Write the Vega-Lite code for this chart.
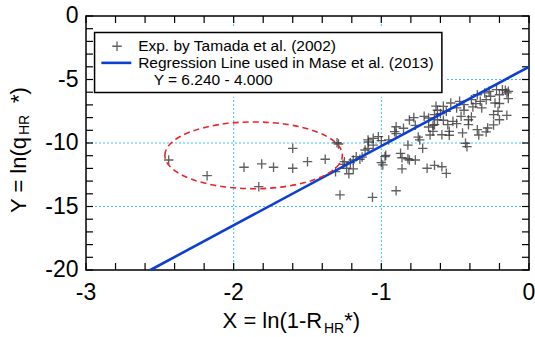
{
  "$schema": "https://vega.github.io/schema/vega-lite/v6.json",
  "width": 443,
  "height": 254,
  "autosize": "none",
  "padding": {"left": 86, "top": 16, "right": 6, "bottom": 67},
  "background": "white",
  "config": {
    "view": {"stroke": "black", "strokeWidth": 1.5}
  },
  "datasets": {
    "xticks": [{"v": -3}, {"v": -2.8}, {"v": -2.6}, {"v": -2.4}, {"v": -2.2}, {"v": -2}, {"v": -1.8}, {"v": -1.6}, {"v": -1.4}, {"v": -1.2}, {"v": -1}, {"v": -0.8}, {"v": -0.6}, {"v": -0.4}, {"v": -0.2}, {"v": 0}],
    "yticks": [{"v": -20}, {"v": -19}, {"v": -18}, {"v": -17}, {"v": -16}, {"v": -15}, {"v": -14}, {"v": -13}, {"v": -12}, {"v": -11}, {"v": -10}, {"v": -9}, {"v": -8}, {"v": -7}, {"v": -6}, {"v": -5}, {"v": -4}, {"v": -3}, {"v": -2}, {"v": -1}, {"v": 0}],
    "xlabels": [{"v": -3, "t": "-3"}, {"v": -2, "t": "-2"}, {"v": -1, "t": "-1"}, {"v": 0, "t": "0"}],
    "ylabels": [{"v": -20, "t": "-20"}, {"v": -15, "t": "-15"}, {"v": -10, "t": "-10"}, {"v": -5, "t": "-5"}, {"v": 0, "t": "0"}],
    "exp": [
      {"x": -2.44, "y": -11.34}, {"x": -2.18, "y": -12.57}, {"x": -1.93, "y": -11.91}, {"x": -1.81, "y": -11.65}, {"x": -1.73, "y": -11.91}, {"x": -1.6, "y": -11.99}, {"x": -1.6, "y": -10.42}, {"x": -1.5, "y": -11.47}, {"x": -1.38, "y": -11.28}, {"x": -1.83, "y": -13.44}, {"x": -1.3, "y": -9.98}, {"x": -1.29, "y": -10.08}, {"x": -1.31, "y": -12.26},
      {"x": -1.25, "y": -11.47}, {"x": -1.21, "y": -11.55}, {"x": -1.235, "y": -11.99}, {"x": -1.28, "y": -14.09}, {"x": -1.06, "y": -14.28}, {"x": -0.9, "y": -13.76},
      {"x": -1.22, "y": -12.42}, {"x": -1.26, "y": -11.68}, {"x": -1.19, "y": -11.34}, {"x": -1.145, "y": -11.28}, {"x": -1.19, "y": -12.03}, {"x": -1.17, "y": -11.08}, {"x": -1.13, "y": -11.11}, {"x": -1.11, "y": -10.55}, {"x": -1.09, "y": -10.42}, {"x": -1.09, "y": -9.76}, {"x": -1.055, "y": -9.63}, {"x": -1.055, "y": -10.16}, {"x": -1.02, "y": -9.5}, {"x": -1.0, "y": -9.82}, {"x": -1.087, "y": -9.92}, {"x": -0.95, "y": -9.76}, {"x": -0.975, "y": -11.08}, {"x": -0.99, "y": -11.73}, {"x": -0.97, "y": -10.97}, {"x": -1.0, "y": -11.55},
      {"x": -0.9, "y": -9.26}, {"x": -0.91, "y": -9.11}, {"x": -0.9, "y": -8.72}, {"x": -0.85, "y": -8.84}, {"x": -0.81, "y": -8.19}, {"x": -0.87, "y": -10.81}, {"x": -0.86, "y": -11.16}, {"x": -0.86, "y": -12.03}, {"x": -0.82, "y": -11.24}, {"x": -0.81, "y": -11.34}, {"x": -0.77, "y": -11.34}, {"x": -0.82, "y": -10.16}, {"x": -0.77, "y": -8.61}, {"x": -0.75, "y": -9.53}, {"x": -0.74, "y": -9.76}, {"x": -0.72, "y": -10.42}, {"x": -0.69, "y": -11.99}, {"x": -0.68, "y": -8.74}, {"x": -0.65, "y": -8.61}, {"x": -0.64, "y": -11.76}, {"x": -0.59, "y": -11.87}, {"x": -0.56, "y": -12.39}, {"x": -0.67, "y": -9.37}, {"x": -0.68, "y": -8.03}, {"x": -0.62, "y": -8.17}, {"x": -0.64, "y": -8.56}, {"x": -0.65, "y": -9.08}, {"x": -0.59, "y": -9.35}, {"x": -0.64, "y": -7.77}, {"x": -0.62, "y": -7.42}, {"x": -0.6, "y": -7.68}, {"x": -0.58, "y": -7.11}, {"x": -0.56, "y": -7.5}, {"x": -0.58, "y": -8.21}, {"x": -0.55, "y": -8.56}, {"x": -0.54, "y": -9.08}, {"x": -0.54, "y": -9.39}, {"x": -0.53, "y": -6.85}, {"x": -0.515, "y": -8.29}, {"x": -0.49, "y": -7.24}, {"x": -0.49, "y": -8.47}, {"x": -0.47, "y": -6.72}, {"x": -0.46, "y": -7.9}, {"x": -0.45, "y": -9.21}, {"x": -0.44, "y": -6.98}, {"x": -0.44, "y": -7.42}, {"x": -0.43, "y": -10.02}, {"x": -0.42, "y": -10.29}, {"x": -0.41, "y": -8.17}, {"x": -0.41, "y": -8.56}, {"x": -0.39, "y": -6.59}, {"x": -0.39, "y": -7.95}, {"x": -0.38, "y": -7.16}, {"x": -0.36, "y": -6.9}, {"x": -0.35, "y": -6.2}, {"x": -0.33, "y": -6.72}, {"x": -0.32, "y": -7.24}, {"x": -0.35, "y": -8.95}, {"x": -0.34, "y": -9.37}, {"x": -0.3, "y": -6.06}, {"x": -0.29, "y": -6.59}, {"x": -0.29, "y": -9.13}, {"x": -0.28, "y": -8.82}, {"x": -0.27, "y": -5.93}, {"x": -0.26, "y": -6.32}, {"x": -0.24, "y": -7.77}, {"x": -0.24, "y": -8.58}, {"x": -0.23, "y": -6.85}, {"x": -0.22, "y": -5.8}, {"x": -0.21, "y": -7.5}, {"x": -0.2, "y": -6.2}, {"x": -0.2, "y": -8.17}, {"x": -0.2, "y": -6.89}, {"x": -0.18, "y": -5.8}, {"x": -0.15, "y": -6.06}, {"x": -0.16, "y": -5.84}, {"x": -0.15, "y": -7.82}, {"x": -0.14, "y": -6.5}, {"x": -0.14, "y": -5.93},
      {"x": -0.78, "y": -8.0}, {"x": -0.71, "y": -7.9}, {"x": -0.63, "y": -7.1}
    ]
  },
  "layer": [
    {
      "data": {"values": [{"x": -2}, {"x": -1}]},
      "mark": {"type": "rule", "color": "#3fbff5", "strokeWidth": 1, "strokeDash": [2, 2]},
      "encoding": {"x": {"field": "x", "type": "quantitative", "scale": {"domain": [-3, 0], "nice": false, "zero": false}, "axis": null}}
    },
    {
      "data": {"values": [{"y": -5}, {"y": -10}, {"y": -15}]},
      "mark": {"type": "rule", "color": "#3fbff5", "strokeWidth": 1, "strokeDash": [2, 2]},
      "encoding": {"y": {"field": "y", "type": "quantitative", "scale": {"domain": [-20, 0], "nice": false, "zero": false}, "axis": null}}
    },
    {
      "data": {"values": [{"x": -2.97, "x2": -0.56, "y": -0.95, "y2": -6.35}]},
      "mark": {"type": "rect", "fill": "white", "strokeWidth": 0},
      "encoding": {
        "x": {"field": "x", "type": "quantitative", "scale": {"domain": [-3, 0], "nice": false, "zero": false}, "axis": null},
        "x2": {"field": "x2"},
        "y": {"field": "y", "type": "quantitative", "scale": {"domain": [-20, 0], "nice": false, "zero": false}, "axis": null},
        "y2": {"field": "y2"}
      }
    },
    {
      "data": {"values": [{"x": -2.942, "x2": -0.59, "y": -1.29, "y2": -6.03}]},
      "mark": {"type": "rect", "fill": null, "fillOpacity": 0, "stroke": "black", "strokeWidth": 1.5},
      "encoding": {
        "x": {"field": "x", "type": "quantitative", "scale": {"domain": [-3, 0], "nice": false, "zero": false}, "axis": null},
        "x2": {"field": "x2"},
        "y": {"field": "y", "type": "quantitative", "scale": {"domain": [-20, 0], "nice": false, "zero": false}, "axis": null},
        "y2": {"field": "y2"}
      }
    },
    {
      "data": {"name": "xticks"},
      "mark": {"type": "rule", "color": "black", "strokeWidth": 1.2},
      "encoding": {
        "x": {"field": "v", "type": "quantitative", "scale": {"domain": [-3, 0], "nice": false, "zero": false}, "axis": null},
        "y": {"datum": -20, "type": "quantitative", "scale": {"domain": [-20, 0], "nice": false, "zero": false}, "axis": null},
        "y2": {"datum": -19.45}
      }
    },
    {
      "data": {"name": "xticks"},
      "mark": {"type": "rule", "color": "black", "strokeWidth": 1.2},
      "encoding": {
        "x": {"field": "v", "type": "quantitative", "scale": {"domain": [-3, 0], "nice": false, "zero": false}, "axis": null},
        "y": {"datum": 0, "type": "quantitative", "scale": {"domain": [-20, 0], "nice": false, "zero": false}, "axis": null},
        "y2": {"datum": -0.55}
      }
    },
    {
      "data": {"name": "yticks"},
      "mark": {"type": "rule", "color": "black", "strokeWidth": 1.2},
      "encoding": {
        "y": {"field": "v", "type": "quantitative", "scale": {"domain": [-20, 0], "nice": false, "zero": false}, "axis": null},
        "x": {"datum": -3, "type": "quantitative", "scale": {"domain": [-3, 0], "nice": false, "zero": false}, "axis": null},
        "x2": {"datum": -2.9526}
      }
    },
    {
      "data": {"name": "yticks"},
      "mark": {"type": "rule", "color": "black", "strokeWidth": 1.2},
      "encoding": {
        "y": {"field": "v", "type": "quantitative", "scale": {"domain": [-20, 0], "nice": false, "zero": false}, "axis": null},
        "x": {"datum": 0, "type": "quantitative", "scale": {"domain": [-3, 0], "nice": false, "zero": false}, "axis": null},
        "x2": {"datum": -0.0474}
      }
    },
    {
      "data": {"name": "xlabels"},
      "mark": {"type": "text", "font": "Liberation Sans", "fontSize": 23, "align": "center", "baseline": "top", "color": "black"},
      "encoding": {
        "x": {"field": "v", "type": "quantitative", "scale": {"domain": [-3, 0], "nice": false, "zero": false}, "axis": null},
        "y": {"datum": -20.945, "type": "quantitative", "scale": {"domain": [-20, 0], "nice": false, "zero": false}, "axis": null},
        "text": {"field": "t"}
      }
    },
    {
      "data": {"name": "ylabels"},
      "mark": {"type": "text", "font": "Liberation Sans", "fontSize": 23, "align": "right", "baseline": "middle", "color": "black"},
      "encoding": {
        "y": {"field": "v", "type": "quantitative", "scale": {"domain": [-20, 0], "nice": false, "zero": false}, "axis": null},
        "x": {"datum": -3.051, "type": "quantitative", "scale": {"domain": [-3, 0], "nice": false, "zero": false}, "axis": null},
        "text": {"field": "t"}
      }
    },
    {
      "data": {"name": "exp"},
      "mark": {"type": "point", "shape": "M-1,0L1,0M0,-1L0,1", "filled": false, "size": 90, "color": "#333333", "strokeWidth": 1.3, "opacity": 0.78},
      "encoding": {
        "x": {"field": "x", "type": "quantitative", "scale": {"domain": [-3, 0], "nice": false, "zero": false}, "axis": null},
        "y": {"field": "y", "type": "quantitative", "scale": {"domain": [-20, 0], "nice": false, "zero": false}, "axis": null}
      }
    },
    {
      "data": {"values": [{"x": -2.564, "y": -20}, {"x": 0, "y": -4}]},
      "mark": {"type": "line", "color": "#0b3fd3", "strokeWidth": 2.6},
      "encoding": {
        "x": {"field": "x", "type": "quantitative", "scale": {"domain": [-3, 0], "nice": false, "zero": false}, "axis": null},
        "y": {"field": "y", "type": "quantitative", "scale": {"domain": [-20, 0], "nice": false, "zero": false}, "axis": null}
      }
    },
    {
      "data": {"values": [{"x": -1.865, "y": -10.97}]},
      "mark": {"type": "point", "shape": "M-1,0C-1,-0.2077 -0.5523,-0.376 0,-0.376C0.5523,-0.376 1,-0.2077 1,0C1,0.2077 0.5523,0.376 0,0.376C-0.5523,0.376 -1,0.2077 -1,0Z", "filled": false, "size": 31506, "color": "#e8262a", "strokeWidth": 1.6, "strokeDash": [6, 4], "opacity": 1},
      "encoding": {
        "x": {"field": "x", "type": "quantitative", "scale": {"domain": [-3, 0], "nice": false, "zero": false}, "axis": null},
        "y": {"field": "y", "type": "quantitative", "scale": {"domain": [-20, 0], "nice": false, "zero": false}, "axis": null}
      }
    },
    {
      "data": {"values": [{"x": -2.79, "y": -2.38}]},
      "mark": {"type": "point", "shape": "M-1,0L1,0M0,-1L0,1", "filled": false, "size": 90, "color": "#333333", "strokeWidth": 1.3, "opacity": 0.78},
      "encoding": {
        "x": {"field": "x", "type": "quantitative", "scale": {"domain": [-3, 0], "nice": false, "zero": false}, "axis": null},
        "y": {"field": "y", "type": "quantitative", "scale": {"domain": [-20, 0], "nice": false, "zero": false}, "axis": null}
      }
    },
    {
      "data": {"values": [{"x": -2.896, "y": -3.69}, {"x": -2.693, "y": -3.69}]},
      "mark": {"type": "line", "color": "#0b3fd3", "strokeWidth": 2.6},
      "encoding": {
        "x": {"field": "x", "type": "quantitative", "scale": {"domain": [-3, 0], "nice": false, "zero": false}, "axis": null},
        "y": {"field": "y", "type": "quantitative", "scale": {"domain": [-20, 0], "nice": false, "zero": false}, "axis": null}
      }
    },
    {
      "data": {"values": [
        {"x": -2.647, "y": -2.38, "t": "Exp. by Tamada et al. (2002)"},
        {"x": -2.647, "y": -3.69, "t": "Regression Line used in Mase et al. (2013)"},
        {"x": -2.542, "y": -5.06, "t": "Y = 6.240 - 4.000"}
      ]},
      "mark": {"type": "text", "font": "Liberation Sans", "fontSize": 15.5, "align": "left", "baseline": "middle", "color": "black"},
      "encoding": {
        "x": {"field": "x", "type": "quantitative", "scale": {"domain": [-3, 0], "nice": false, "zero": false}, "axis": null},
        "y": {"field": "y", "type": "quantitative", "scale": {"domain": [-20, 0], "nice": false, "zero": false}, "axis": null},
        "text": {"field": "t"}
      }
    },
    {
      "data": {"values": [
        {"x": -2.075, "y": -24.59, "t": "X = ln(1-R"},
        {"x": -1.251, "y": -24.59, "t": "*)"}
      ]},
      "mark": {"type": "text", "font": "Liberation Sans", "fontSize": 22, "align": "left", "baseline": "alphabetic", "color": "black"},
      "encoding": {
        "x": {"field": "x", "type": "quantitative", "scale": {"domain": [-3, 0], "nice": false, "zero": false}, "axis": null},
        "y": {"field": "y", "type": "quantitative", "scale": {"domain": [-20, 0], "nice": false, "zero": false}, "axis": null},
        "text": {"field": "t"}
      }
    },
    {
      "data": {"values": [{"x": -1.389, "y": -24.98, "t": "HR"}]},
      "mark": {"type": "text", "font": "Liberation Sans", "fontSize": 14, "align": "left", "baseline": "alphabetic", "color": "black"},
      "encoding": {
        "x": {"field": "x", "type": "quantitative", "scale": {"domain": [-3, 0], "nice": false, "zero": false}, "axis": null},
        "y": {"field": "y", "type": "quantitative", "scale": {"domain": [-20, 0], "nice": false, "zero": false}, "axis": null},
        "text": {"field": "t"}
      }
    },
    {
      "data": {"values": [
        {"x": -3.406, "y": -15.51, "t": "Y = ln(q"},
        {"x": -3.406, "y": -6.85, "t": "*)"}
      ]},
      "mark": {"type": "text", "font": "Liberation Sans", "fontSize": 22, "align": "left", "baseline": "alphabetic", "angle": 270, "color": "black"},
      "encoding": {
        "x": {"field": "x", "type": "quantitative", "scale": {"domain": [-3, 0], "nice": false, "zero": false}, "axis": null},
        "y": {"field": "y", "type": "quantitative", "scale": {"domain": [-20, 0], "nice": false, "zero": false}, "axis": null},
        "text": {"field": "t"}
      }
    },
    {
      "data": {"values": [{"x": -3.386, "y": -9.37, "t": "HR"}]},
      "mark": {"type": "text", "font": "Liberation Sans", "fontSize": 14, "align": "left", "baseline": "alphabetic", "angle": 270, "color": "black"},
      "encoding": {
        "x": {"field": "x", "type": "quantitative", "scale": {"domain": [-3, 0], "nice": false, "zero": false}, "axis": null},
        "y": {"field": "y", "type": "quantitative", "scale": {"domain": [-20, 0], "nice": false, "zero": false}, "axis": null},
        "text": {"field": "t"}
      }
    }
  ]
}
